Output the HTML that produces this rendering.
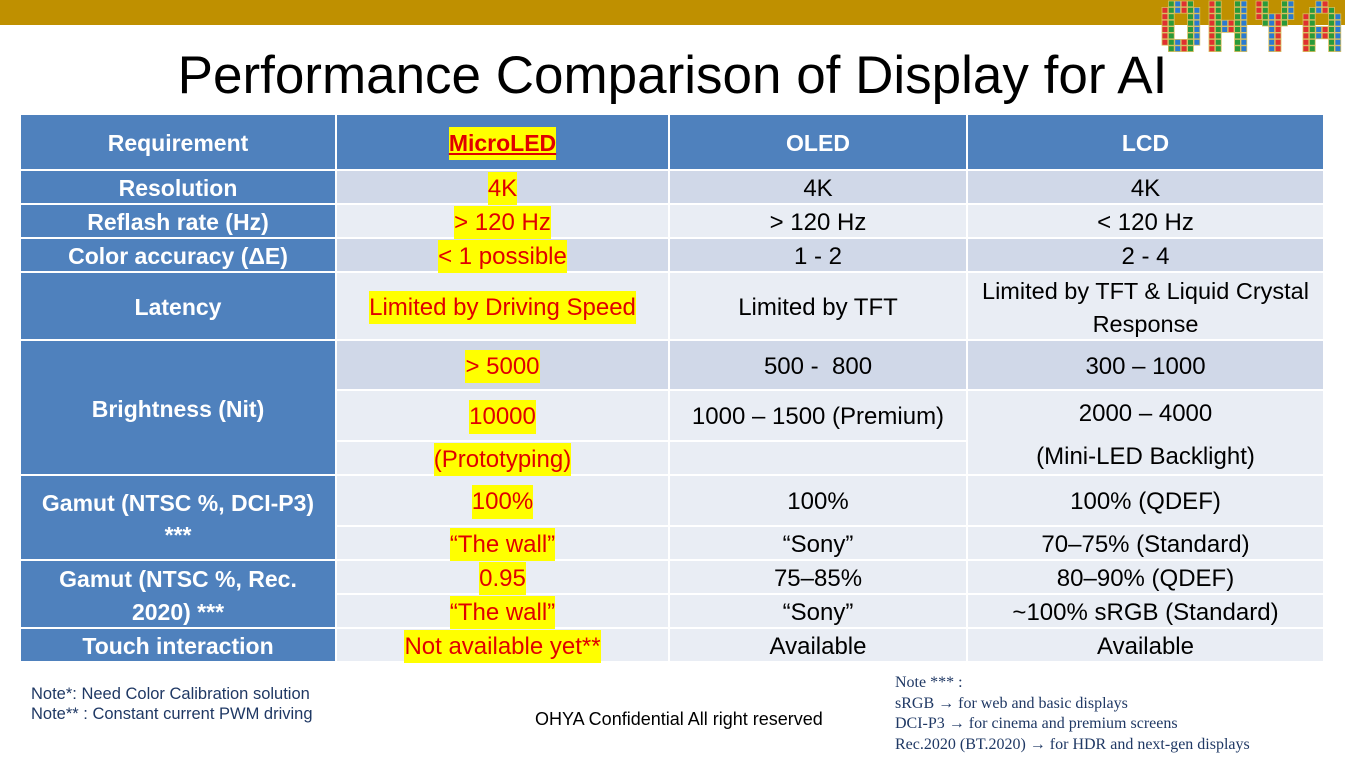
<!DOCTYPE html>
<html><head><meta charset="utf-8"><style>
body{margin:0;width:1345px;height:758px;position:relative;background:#fff;font-family:"Liberation Sans",sans-serif;overflow:hidden}
.c{position:absolute;box-sizing:border-box;display:flex;align-items:center;justify-content:center;text-align:center;font-size:24px;color:#000;border-right:2px solid #fff;border-bottom:2px solid #fff;line-height:1.4;white-space:nowrap;padding-top:3px}
.h{background:#4F81BD;color:#fff;font-weight:bold;font-size:23px}
.d{background:#D0D8E8}.l{background:#E9EDF4}
.r span{background:#ff0;color:#e00000}
</style></head><body>
<div style="position:absolute;left:0;top:0;width:1345px;height:25px;background:#BF9000"></div>
<svg style="position:absolute;left:1158px;top:0" width="187" height="54" id="logo"></svg>
<div style="position:absolute;left:0;top:45px;width:1345px;text-align:center;font-size:53px;color:#000">Performance Comparison of Display for AI</div>
<div id="t"></div>
<div style="position:absolute;left:31px;top:684px;font-size:16.5px;color:#1F3864;line-height:20px">Note*: Need Color Calibration solution<br>Note** : Constant current PWM driving</div>
<div style="position:absolute;left:535px;top:709px;font-size:18px;color:#000">OHYA Confidential All right reserved</div>
<div style="position:absolute;left:895px;top:673px;font-family:'Liberation Serif',serif;font-size:16px;color:#1F3864;line-height:20.5px">Note *** :<br>sRGB → for web and basic displays<br>DCI-P3 → for cinema and premium screens<br>Rec.2020 (BT.2020) → for HDR and next-gen displays</div>
<script>
var X=[21,337,670,968,1325];
var cells=[
[0,115,171,1,'h','Requirement'],[1,115,171,1,'h r','<span style="text-decoration:underline">MicroLED</span>'],[2,115,171,1,'h','OLED'],[3,115,171,1,'h','LCD'],
[0,171,205,1,'h','Resolution'],[1,171,205,1,'d r','<span>4K</span>'],[2,171,205,1,'d','4K'],[3,171,205,1,'d','4K'],
[0,205,239,1,'h','Reflash rate (Hz)'],[1,205,239,1,'l r','<span>&gt; 120 Hz</span>'],[2,205,239,1,'l','&gt; 120 Hz'],[3,205,239,1,'l','&lt; 120 Hz'],
[0,239,273,1,'h','Color accuracy (ΔE)'],[1,239,273,1,'d r','<span>&lt; 1 possible</span>'],[2,239,273,1,'d','1 - 2'],[3,239,273,1,'d','2 - 4'],
[0,273,341,1,'h','Latency'],[1,273,341,1,'l r','<span>Limited by Driving Speed</span>'],[2,273,341,1,'l','Limited by TFT'],[3,273,341,1,'l','<div style="font-size:23.5px">Limited by TFT &amp; Liquid Crystal<br>Response</div>'],
[0,341,476,1,'h','Brightness (Nit)'],[1,341,391,1,'d r','<span>&gt; 5000</span>'],[2,341,391,1,'d','500 -&nbsp; 800'],[3,341,391,1,'d','300 – 1000'],
[1,391,442,1,'l r','<span>10000</span>'],[2,391,442,1,'l','1000 – 1500 (Premium)'],[3,391,476,1,'l','<div style="line-height:43px;padding-top:2px">2000 – 4000<br>(Mini-LED Backlight)</div>'],
[1,442,476,1,'l r','<span>(Prototyping)</span>'],[2,442,476,1,'l',''],
[0,476,561,1,'h','Gamut (NTSC %, DCI-P3)<br>***'],[1,476,527,1,'l r','<span>100%</span>'],[2,476,527,1,'l','100%'],[3,476,527,1,'l','100% (QDEF)'],
[1,527,561,1,'l r','<span>“The wall”</span>'],[2,527,561,1,'l','“Sony”'],[3,527,561,1,'l','70–75% (Standard)'],
[0,561,629,1,'h','Gamut (NTSC %, Rec.<br>2020) ***'],[1,561,595,1,'l r','<span>0.95</span>'],[2,561,595,1,'l','75–85%'],[3,561,595,1,'l','80–90% (QDEF)'],
[1,595,629,1,'l r','<span>“The wall”</span>'],[2,595,629,1,'l','“Sony”'],[3,595,629,1,'l','~100% sRGB (Standard)'],
[0,629,663,1,'h','Touch interaction'],[1,629,663,1,'l r','<span>Not available yet**</span>'],[2,629,663,1,'l','Available'],[3,629,663,1,'l','Available']];
var h='';cells.forEach(function(c){h+='<div class="c '+c[4]+'" style="left:'+X[c[0]]+'px;top:'+c[1]+'px;width:'+(X[c[0]+c[3]]-X[c[0]])+'px;height:'+(c[2]-c[1])+'px">'+c[5]+'</div>';});
document.getElementById('t').innerHTML=h;
var L=["011110 111111 110011 110011 110011 110011 111111 011110",
"110011 110011 110011 111111 111111 110011 110011 110011",
"110011 110011 111111 011110 001100 001100 001100 001100",
"001100 011110 110011 110011 111111 111111 110011 110011"];
var col=['#e03030','#2a9a3a','#2a7ad0'];var s='';var k=0;
L.forEach(function(g,li){g.split(' ').forEach(function(r,y){for(var x=0;x<6;x++){if(r[x]=='1'){s+='<rect x="'+(4+li*47+x*6.4)+'" y="'+(1+y*6.4)+'" width="5.8" height="5.8" fill="'+col[(k)%3]+'" stroke="#d8c060" stroke-width="0.8"/>';}k++;}});});
document.getElementById('logo').innerHTML=s;
</script>
</body></html>
